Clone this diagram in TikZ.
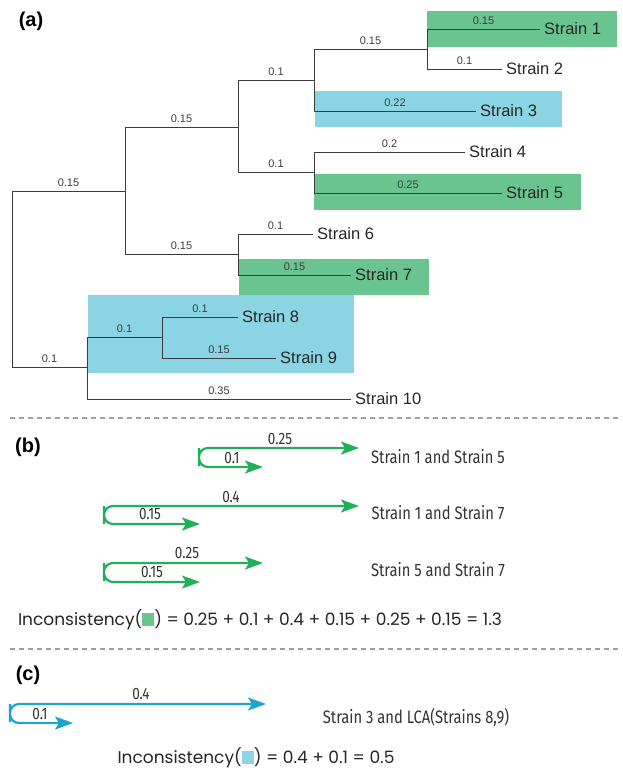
\documentclass[tikz,border=0pt]{standalone}
\usepackage{fontspec}
\setmainfont{Liberation Sans}
\newfontfamily\condfont[FakeStretch=0.82]{Fira Sans}
\newfontfamily\eqfont{Poppins}
\usetikzlibrary{arrows.meta}

\definecolor{boxgreen}{RGB}{106,196,143}
\definecolor{boxblue}{RGB}{138,212,227}
\definecolor{arrgreen}{RGB}{32,176,90}
\definecolor{arrblue}{RGB}{30,165,204}
\definecolor{treegray}{RGB}{60,60,60}

\newcommand{\sqgreen}{{\color{boxgreen}\rule[-0.5pt]{12pt}{13pt}}}
\newcommand{\sqblue}{{\color{boxblue}\rule[-0.5pt]{12pt}{13pt}}}

\tikzset{
  branch/.style={draw=treegray,line width=0.9pt},
  blen/.style={font=\fontsize{11}{13}\selectfont,text=treegray,inner sep=0pt,above=4pt,pos=0.75},
  leaf/.style={anchor=west,inner sep=4pt,font=\fontsize{16.5}{18}\selectfont,text=black!85},
  panel/.style={font=\fontsize{20}{22}\selectfont\bfseries},
  sep/.style={draw=gray!75,line width=1.2pt,dash pattern=on 5pt off 4pt},
  loopgreen/.style={draw=arrgreen,line width=2.2pt,rounded corners=9pt,<->},
  loopblue/.style={loopgreen,draw=arrblue},
  dist/.style={font=\condfont\fontsize{16.5}{18}\selectfont,text=black!80,inner sep=0pt},
  pair/.style={font=\condfont\fontsize{18}{20}\selectfont,text=black!80},
  eqtext/.style={font=\eqfont\fontsize{17}{20}\selectfont,text=black!85},
}

\begin{document}
\begin{tikzpicture}[x=1pt,y=-1pt,>={Stealth[length=18pt,width=13pt,inset=4pt]}]
  \useasboundingbox (0,0) rectangle (622,772);

  %%% (a) tree
  \node[panel] (PanelA) at (31,21) {(a)};

  % highlights
  \fill[boxgreen] (427,11) rectangle (617,47);
  \fill[boxblue] (315,91) rectangle (562,127);
  \fill[boxgreen] (314,174) rectangle (581,210);
  \fill[boxgreen] (239,259) rectangle (429,295);
  \fill[boxblue] (88,295) rectangle (354,373);

  \coordinate (Root) at (12,279);
  \coordinate (NodeA) at (125,191);
  \coordinate (NodeB) at (238,127);
  \coordinate (NodeC) at (314,80);
  \coordinate (NodeD) at (427,49);
  \coordinate (NodeE) at (314,172);
  \coordinate (NodeF) at (238,254);
  \coordinate (NodeG) at (87,367);
  \coordinate (NodeH) at (162,337);

  \node[leaf] (S1) at (540,29) {Strain 1};
  \node[leaf] (S2) at (502,69) {Strain 2};
  \node[leaf] (S3) at (476,111) {Strain 3};
  \node[leaf] (S4) at (465,152) {Strain 4};
  \node[leaf] (S5) at (502,193) {Strain 5};
  \node[leaf] (S6) at (313,234) {Strain 6};
  \node[leaf] (S7) at (351,275) {Strain 7};
  \node[leaf] (S8) at (238,317) {Strain 8};
  \node[leaf] (S9) at (276,358) {Strain 9};
  \node[leaf] (S10) at (351,399) {Strain 10};

  \draw[branch] (Root) |- node[blen] {0.15} (NodeA);
  \draw[branch] (Root) |- node[blen] {0.1} (NodeG);
  \draw[branch] (NodeA) |- node[blen] {0.15} (NodeB);
  \draw[branch] (NodeA) |- node[blen] {0.15} (NodeF);
  \draw[branch] (NodeB) |- node[blen] {0.1} (NodeC);
  \draw[branch] (NodeB) |- node[blen] {0.1} (NodeE);
  \draw[branch] (NodeC) |- node[blen] {0.15} (NodeD);
  \draw[branch] (NodeC) |- node[blen] {0.22} (S3);
  \draw[branch] (NodeD) |- node[blen] {0.15} (S1);
  \draw[branch] (NodeD) |- node[blen] {0.1} (S2);
  \draw[branch] (NodeE) |- node[blen] {0.2} (S4);
  \draw[branch] (NodeE) |- node[blen] {0.25} (S5);
  \draw[branch] (NodeF) |- node[blen] {0.1} (S6);
  \draw[branch] (NodeF) |- node[blen] {0.15} (S7);
  \draw[branch] (NodeG) |- node[blen] {0.1} (NodeH);
  \draw[branch] (NodeG) |- node[blen] {0.35} (S10);
  \draw[branch] (NodeH) |- node[blen] {0.1} (S8);
  \draw[branch] (NodeH) |- node[blen] {0.15} (S9);

  \coordinate (SepL1) at (10,418);
  \coordinate (SepR1) at (622,418);
  \draw[sep] (SepL1) -- (SepR1);

  %%% (b) green pairs
  \node[panel] (PanelB) at (28,447) {(b)};

  \coordinate (B1Top) at (359,448);
  \coordinate (B1Bend) at (199,457);
  \coordinate (B1Bot) at (263,467);
  \draw[loopgreen] (B1Top) -| (B1Bend) |- (B1Bot);
  \node[dist] (B1TopLen) at (280,439) {0.25};
  \node[dist] (B1BotLen) at (232,458) {0.1};
  \node[pair] (Pair15) at (438,457) {Strain 1 and Strain 5};

  \coordinate (B2Top) at (359,506);
  \coordinate (B2Bend) at (104,515);
  \coordinate (B2Bot) at (200,524);
  \draw[loopgreen] (B2Top) -| (B2Bend) |- (B2Bot);
  \node[dist] (B2TopLen) at (231,497) {0.4};
  \node[dist] (B2BotLen) at (150,514) {0.15};
  \node[pair] (Pair17) at (438,513) {Strain 1 and Strain 7};

  \coordinate (B3Top) at (263,563);
  \coordinate (B3Bend) at (104,572);
  \coordinate (B3Bot) at (200,582);
  \draw[loopgreen] (B3Top) -| (B3Bend) |- (B3Bot);
  \node[dist] (B3TopLen) at (187,553) {0.25};
  \node[dist] (B3BotLen) at (152,572) {0.15};
  \node[pair] (Pair57) at (438,570) {Strain 5 and Strain 7};

  \node[eqtext] (EqGreen) at (260,620)
    {Inconsistency(\sqgreen) = 0.25 + 0.1 + 0.4 + 0.15 + 0.25 + 0.15 = 1.3};

  \coordinate (SepL2) at (10,649);
  \coordinate (SepR2) at (620,649);
  \draw[sep] (SepL2) -- (SepR2);

  %%% (c) blue pair
  \node[panel] (PanelC) at (28,675) {(c)};

  \coordinate (C1Top) at (266,704);
  \coordinate (C1Bend) at (10,713);
  \coordinate (C1Bot) at (73,723);
  \draw[loopblue] (C1Top) -| (C1Bend) |- (C1Bot);
  \node[dist] (C1TopLen) at (141,694) {0.4};
  \node[dist] (C1BotLen) at (40,714) {0.1};
  \node[pair,font=\condfont\fontsize{18}{20}\selectfont] (PairLCA) at (416,717) {Strain 3 and LCA(Strains 8,9)};

  \node[eqtext] (EqBlue) at (256,758) {Inconsistency(\sqblue) = 0.4 + 0.1 = 0.5};
\end{tikzpicture}
\end{document}
